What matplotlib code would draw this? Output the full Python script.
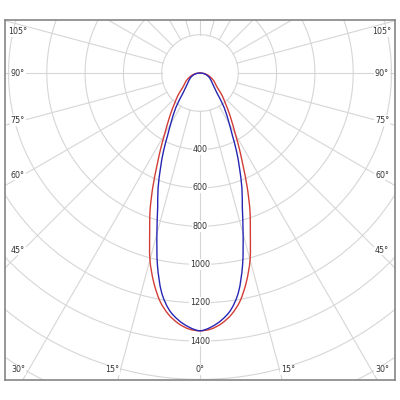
import numpy as np
import matplotlib
matplotlib.use("Agg")
import matplotlib.pyplot as plt
from matplotlib.path import Path
from matplotlib.patches import PathPatch

# luminous intensity (cd) vs angle from nadir (deg), symmetric curves
angles = [0, 2.5, 5, 7.5, 10, 12.5, 15, 17.5, 20, 22.5, 25, 27.5, 30,
          35, 40, 45, 50, 55, 60, 65, 70, 75, 80, 85, 90]
red_cd = [1346, 1338, 1312, 1270, 1208, 1118, 1010, 874, 762, 643, 530, 444, 370,
          275, 206, 160, 118, 98, 84, 68, 54, 41, 28, 14, 0]
blue_cd = [1346, 1328, 1295, 1245, 1160, 1027, 870, 735, 640, 540, 452, 365, 305,
           220, 140, 105, 85, 72, 62, 52, 42, 32, 21, 10, 0]

ring_values = [200, 400, 600, 800, 1000, 1200, 1400, 1600, 1800]
ring_labels = [400, 600, 800, 1000, 1200, 1400]
spoke_step = 15
side_labels = [105, 90, 75, 60, 45]
bottom_labels = [30, 15, 0]

PX = 200 / 38.3  # cd per pixel
GRID = '#d6d6d6'
TXT = '#333333'
FS = 5.8


def to_xy(theta_deg, r):
    t = np.radians(theta_deg)
    return r * np.sin(t), -r * np.cos(t)


def smooth_path(x, y):
    # closed Catmull-Rom curve through the points, drawn as cubic Beziers
    pts = np.column_stack([x, y])
    n = len(pts)
    verts = [pts[0]]
    codes = [Path.MOVETO]
    for i in range(n):
        p0, p1 = pts[i - 1], pts[i]
        p2, p3 = pts[(i + 1) % n], pts[(i + 2) % n]
        verts += [p1 + (p2 - p0) / 6, p2 - (p3 - p1) / 6, p2]
        codes += [Path.CURVE4] * 3
    return Path(verts, codes)


fig = plt.figure(figsize=(4, 4), dpi=100)
ax = fig.add_axes([5 / 400, 20 / 400, 390 / 400, 360 / 400])
ax.set_xlim(-195 * PX, 195 * PX)
ax.set_ylim(-307 * PX, 53 * PX)
ax.set_xticks([])
ax.set_yticks([])
for sp in ax.spines.values():
    sp.set_color('#858585')
    sp.set_linewidth(1.2)

# grid: rings and spokes (spokes start at the first ring)
phi = np.linspace(0, 360, 721)
for rv in ring_values:
    x, y = to_xy(phi, rv)
    ax.plot(x, y, color=GRID, lw=0.8, zorder=1)
for a in range(0, 360, spoke_step):
    x, y = to_xy(np.array([a, a]), np.array([ring_values[0], 5000]))
    ax.plot(x, y, color=GRID, lw=0.8, zorder=1)

# curves (last point at 90 deg is the centre, shared by both halves)
th = np.array(angles, dtype=float)
full_th = np.concatenate([-th[::-1], th[1:-1]])
for vals, col in [(red_cd, '#d23c36'), (blue_cd, '#2626b4')]:
    v = np.array(vals, dtype=float)
    full_v = np.concatenate([v[::-1], v[1:-1]])
    x, y = to_xy(full_th, full_v)
    ax.add_patch(PathPatch(smooth_path(x, y), facecolor='none', edgecolor=col,
                           lw=1.0, zorder=3))

box = dict(facecolor='white', edgecolor='none', pad=0.6)

# radial labels along the 0 deg axis
for rv in ring_labels:
    ax.text(0, -rv, str(rv), ha='center', va='center', fontsize=FS,
            color=TXT, bbox=box, zorder=4)

# angle labels on the sides
inset = 182
for a in side_labels:
    cot = np.cos(np.radians(a)) / np.sin(np.radians(a))
    ydn = max(inset * cot, -41) - 5 * max(cot, 0)
    for s in (-1, 1):
        ax.text(s * inset * PX, -ydn * PX, f'{a}°', ha='center', va='center',
                fontsize=FS, color=TXT, bbox=box, zorder=4)

# angle labels along the bottom
for a in bottom_labels:
    xo = 0 if a == 0 else min(np.tan(np.radians(a)) * 307 + 6, inset)
    for s in ((1,) if a == 0 else (-1, 1)):
        ax.text(s * xo * PX, -297 * PX, f'{a}°', ha='center', va='center',
                fontsize=FS, color=TXT, bbox=box, zorder=4)

fig.savefig('out.png', dpi=100, facecolor='white')
